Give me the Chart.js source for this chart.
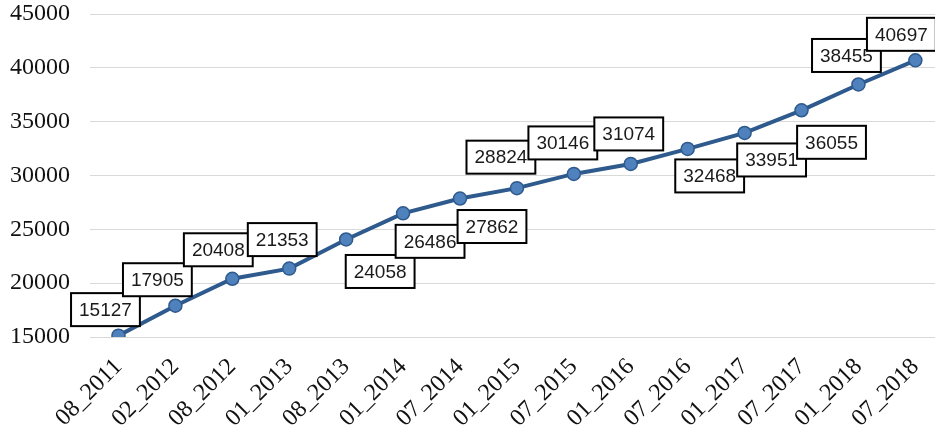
<!DOCTYPE html>
<html>
<head>
<meta charset="utf-8">
<script src="https://cdn.jsdelivr.net/npm/chart.js@4/dist/chart.umd.min.js"></script>
<style>
  html, body { margin: 0; padding: 0; background: #fff; overflow: hidden; }
  #wrap { width: 952px; height: 432px; }
</style>
</head>
<body>
<div id="wrap"><canvas id="c" width="952" height="432"></canvas></div>
<script>
const categories = ["08_2011","02_2012","08_2012","01_2013","08_2013","01_2014","07_2014","01_2015","07_2015","01_2016","07_2016","01_2017","07_2017","01_2018","07_2018"];
const values = [15127,17905,20408,21353,24058,26486,27862,28824,30146,31074,32468,33951,36055,38455,40697];
const yMin = 15000, yMax = 45000, yStep = 5000;

// label offsets relative to each point (style, not data)
const labelOffsets = [
  [-13,-26],[-18,-26],[-14,-29],[-7,-29],[34,32],[27,28],[32,28],
  [-16,-31],[-11,-31],[-2,-30],[22,27],[27,27],[30,32],[-12,-29],[-14,-26]
];

const boxLabels = {
  id: 'boxLabels',
  afterDatasetsDraw(chart) {
    const ctx = chart.ctx;
    const meta = chart.getDatasetMeta(0);
    const data = chart.data.datasets[0].data;
    ctx.save();
    ctx.font = '19px "Liberation Sans", Arial, sans-serif';
    ctx.textAlign = 'center';
    ctx.textBaseline = 'middle';
    meta.data.forEach((pt, i) => {
      const txt = String(data[i]);
      const off = labelOffsets[i];
      const cx = pt.x + off[0], cy = pt.y + off[1];
      const w = ctx.measureText(txt).width + 16, h = 33;
      ctx.fillStyle = '#fff';
      ctx.fillRect(cx - w/2, cy - h/2, w, h);
      ctx.lineWidth = 2;
      ctx.strokeStyle = '#000';
      ctx.strokeRect(cx - w/2, cy - h/2, w, h);
      ctx.fillStyle = '#1a1a1a';
      ctx.fillText(txt, cx, cy + 1);
    });
    ctx.restore();
  }
};

new Chart(document.getElementById('c'), {
  type: 'line',
  data: {
    labels: categories,
    datasets: [{
      data: values,
      borderColor: '#2E5A8D',
      borderWidth: 4,
      pointBackgroundColor: '#4F81BD',
      pointBorderColor: '#2E5A8D',
      pointBorderWidth: 1.5,
      pointRadius: 6.5,
      tension: 0,
      fill: false
    }]
  },
  options: {
    responsive: false,
    animation: false,
    layout: { padding: { top: 0, right: 0, left: 0, bottom: 0 } },
    plugins: { legend: { display: false }, tooltip: { enabled: false } },
    scales: {
      x: {
        offset: true,
        grid: { display: false, drawTicks: false },
        border: { display: false },
        ticks: {
          minRotation: 45, maxRotation: 45, autoSkip: false,
          padding: 16,
          color: '#111',
          font: { family: '"Liberation Serif", "Times New Roman", serif', size: 24 }
        },
        afterFit(scale) { scale.height = 95; }
      },
      y: {
        min: yMin, max: yMax,
        grid: { color: '#D9D9D9', lineWidth: 1, drawTicks: false },
        border: { display: false },
        ticks: {
          stepSize: yStep,
          padding: 20,
          color: '#111',
          font: { family: '"Liberation Serif", "Times New Roman", serif', size: 24 },
          callback: (v) => String(v)
        },
        afterFit(scale) { scale.width = 90; scale.paddingTop = 14; scale.paddingBottom = 0; }
      }
    }
  },
  plugins: [boxLabels]
});
</script>
</body>
</html>
